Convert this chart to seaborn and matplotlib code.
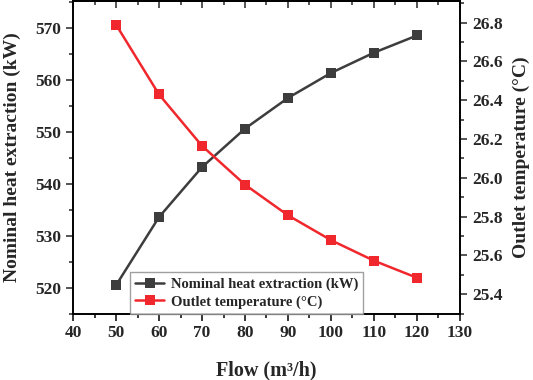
import matplotlib
matplotlib.use("Agg")
import matplotlib.pyplot as plt
import seaborn as sns
import pandas as pd
from matplotlib.ticker import MultipleLocator

flow = [50, 60, 70, 80, 90, 100, 110, 120]
heat_kw = [520.5, 533.6, 543.2, 550.6, 556.5, 561.3, 565.2, 568.5]
outlet_c = [26.79, 26.43, 26.165, 25.965, 25.807, 25.679, 25.573, 25.485]

sns.set_theme(style="ticks")
plt.rcParams['font.family'] = ['Liberation Serif', 'DejaVu Serif']
plt.rcParams['font.weight'] = 'bold'

df = pd.DataFrame({"flow": flow, "heat": heat_kw, "temp": outlet_c})

fig = plt.figure(figsize=(5.33, 3.8), dpi=100)
ax = fig.add_axes([0.137, 0.174, 0.726, 0.823])
ax2 = ax.twinx()

black = "#3d3d3d"
red = "#f0282d"

sns.lineplot(data=df, x="flow", y="heat", ax=ax, color=black, marker="s",
             markersize=6.5, markeredgewidth=0, linewidth=1.8,
             label="Nominal heat extraction (kW)", legend=False)
sns.lineplot(data=df, x="flow", y="temp", ax=ax2, color=red, marker="s",
             markersize=6.5, markeredgewidth=0, linewidth=1.8,
             label="Outlet temperature (\u00b0C)", legend=False)

ax.set_xlim(40, 130)
ax.set_ylim(515, 575.1)
ax2.set_ylim(25.299, 26.911)

ax.xaxis.set_major_locator(MultipleLocator(10))
ax.xaxis.set_minor_locator(MultipleLocator(5))
ax.yaxis.set_major_locator(MultipleLocator(10))
ax.yaxis.set_minor_locator(MultipleLocator(5))
ax2.yaxis.set_major_locator(MultipleLocator(0.2))
ax2.yaxis.set_minor_locator(MultipleLocator(0.1))

for a in (ax, ax2):
    for s in a.spines.values():
        s.set_visible(True)
        s.set_linewidth(1.2)
        s.set_color("black")

ax.tick_params(axis="x", which="both", direction="out", bottom=True, top=False,
               labelsize=12.5, width=1.1, color="black", pad=3)
ax.tick_params(axis="x", which="major", length=5)
ax.tick_params(axis="x", which="minor", length=3)
ax.tick_params(axis="y", which="major", direction="out", length=5, width=1.1,
               labelsize=12.5, left=True)
ax.tick_params(axis="y", which="minor", direction="out", length=3, width=1.1, left=True)
ax2.tick_params(axis="y", which="major", direction="out", length=5, width=1.1,
                labelsize=12.5, right=True)
ax2.tick_params(axis="y", which="minor", direction="out", length=3, width=1.1, right=True)

top = ax.secondary_xaxis("top")
top.xaxis.set_major_locator(MultipleLocator(10))
top.xaxis.set_minor_locator(MultipleLocator(5))
top.tick_params(axis="x", which="both", direction="in", labeltop=False, width=1.1)
top.tick_params(axis="x", which="major", length=5)
top.tick_params(axis="x", which="minor", length=3)
top.spines["top"].set_linewidth(1.2)

for lab in ax.get_xticklabels() + ax.get_yticklabels() + ax2.get_yticklabels():
    lab.set_fontweight("bold")

ax.set_xlabel("Flow (m\u00b3/h)", fontsize=14.5, fontweight="bold", labelpad=14)
ax.set_ylabel("Nominal heat extraction (kW)", fontsize=14, fontweight="bold", labelpad=10)
ax2.set_ylabel("Outlet temperature (\u00b0C)", fontsize=14, fontweight="bold", labelpad=7)

h1, l1 = ax.get_legend_handles_labels()
h2, l2 = ax2.get_legend_handles_labels()
leg = ax2.legend(h1 + h2, l1 + l2, loc="lower left", bbox_to_anchor=(0.147, 0.0),
                 borderaxespad=0.0, fancybox=False, frameon=True,
                 prop={"weight": "bold", "size": 10.5}, handlelength=2.0,
                 labelspacing=0.3, borderpad=0.35, handletextpad=0.45)
leg.get_frame().set_edgecolor("#888888")
leg.get_frame().set_linewidth(1.0)

fig.savefig("out.png", dpi=100)
